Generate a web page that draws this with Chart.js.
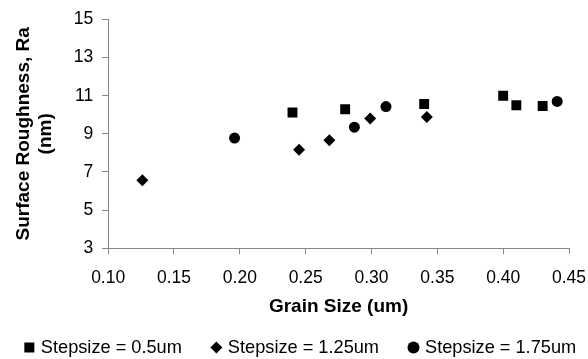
<!DOCTYPE html>
<html>
<head>
<meta charset="utf-8">
<script src="https://cdn.jsdelivr.net/npm/chart.js@4"></script>
<style>
  html, body { margin: 0; padding: 0; background: #fff; }
  #wrap { width: 588px; height: 359px; position: relative; }
</style>
</head>
<body>
<div id="wrap"><canvas id="chart"></canvas></div>
<script>
/* ─── Data ─── */
const SERIES_NAMES = ['Stepsize = 0.5um', 'Stepsize = 1.25um', 'Stepsize = 1.75um'];
const SERIES_STYLES = ['rect', 'rectRot', 'circle'];

const GRAIN_05  = [0.240, 0.280, 0.340, 0.400, 0.410, 0.430];
const RA_05     = [10.12, 10.29, 10.57, 11.00, 10.50, 10.46];

const GRAIN_125 = [0.126, 0.245, 0.268, 0.299, 0.342];
const RA_125    = [6.57, 8.16, 8.66, 9.81, 9.89];

const GRAIN_175 = [0.196, 0.287, 0.311, 0.441];
const RA_175    = [8.78, 9.35, 10.43, 10.70];

const X_TITLE = 'Grain Size (um)';
const Y_TITLE = ['Surface Roughness, Ra', '(nm)'];

const FONT = "Arial, 'Liberation Sans', sans-serif";
const AXIS = '#868686';

const pairs = (xs, ys) => xs.map((x, i) => ({ x, y: ys[i] }));
const POINT_R = { rect: 7, rectRot: 6, circle: 5.5 };

const datasets = [[GRAIN_05, RA_05], [GRAIN_125, RA_125], [GRAIN_175, RA_175]].map(([xs, ys], i) => ({
  label: SERIES_NAMES[i],
  data: pairs(xs, ys),
  pointStyle: SERIES_STYLES[i],
  pointRadius: POINT_R[SERIES_STYLES[i]],
  pointHoverRadius: POINT_R[SERIES_STYLES[i]],
  backgroundColor: '#000',
  borderColor: '#000',
  borderWidth: 0,
}));

/* ─── Excel-style legend row under the axis title ─── */
function marker(ctx, style, x, y) {
  ctx.beginPath();
  if (style === 'rect') ctx.rect(x - 5, y - 5, 10, 10);
  else if (style === 'rectRot') { ctx.moveTo(x - 6, y); ctx.lineTo(x, y - 6); ctx.lineTo(x + 6, y); ctx.lineTo(x, y + 6); ctx.closePath(); }
  else ctx.arc(x, y, 6, 0, Math.PI * 2);
  ctx.fill();
}

const bottomLegend = {
  id: 'bottomLegend',
  afterDraw(chart) {
    const ctx = chart.ctx;
    const sets = chart.data.datasets;
    const MW = 11, GAP = 6, ITEM_GAP = 29;
    ctx.save();
    ctx.font = `18.2px ${FONT}`;
    ctx.fillStyle = '#000';
    ctx.textBaseline = 'alphabetic';
    const widths = sets.map(d => ctx.measureText(d.label).width);
    const total = widths.reduce((s, w) => s + w + MW + GAP, 0) + ITEM_GAP * (sets.length - 1);
    let x = chart.width / 2 + 6 - total / 2;
    sets.forEach((d, i) => {
      marker(ctx, d.pointStyle, x + MW / 2, 347.5);
      ctx.fillText(d.label, x + MW + GAP, 353);
      x += MW + GAP + widths[i] + ITEM_GAP;
    });
    ctx.restore();
  },
};

new Chart(document.getElementById('chart'), {
  type: 'scatter',
  data: { datasets },
  plugins: [bottomLegend],
  options: {
    responsive: true,
    maintainAspectRatio: false,
    animation: false,
    layout: { padding: { left: 8, right: 0, top: 9, bottom: 41 } },
    plugins: {
      tooltip: { enabled: false },
      legend: { display: false },
    },
    scales: {
      x: {
        type: 'linear',
        min: 0.10, max: 0.45,
        border: { display: true, color: AXIS, width: 1 },
        grid: { drawOnChartArea: false, drawTicks: true, tickLength: 6, color: AXIS },
        ticks: {
          stepSize: 0.05, padding: 13, color: '#000',
          font: { family: FONT, size: 17.5 },
          callback: v => v.toFixed(2),
        },
        title: {
          display: true, text: X_TITLE, color: '#000',
          font: { family: FONT, size: 19, weight: 'bold' },
          padding: { top: -6, bottom: 0 },
        },
        // only half of the last label should hang past the plot, not the tick padding too
        afterFit: s => { s.paddingRight = 19; },
      },
      y: {
        min: 3, max: 15,
        border: { display: true, color: AXIS, width: 1 },
        grid: { drawOnChartArea: false, drawTicks: true, tickLength: 6, color: AXIS },
        ticks: {
          stepSize: 2, padding: 9, color: '#000',
          font: { family: FONT, size: 17.5 },
        },
        title: {
          display: true, text: Y_TITLE, color: '#000',
          font: { family: FONT, size: 19, weight: 'bold', lineHeight: 1.15 },
          padding: { top: 5, bottom: 8 },
        },
      },
    },
  },
});
</script>
</body>
</html>
